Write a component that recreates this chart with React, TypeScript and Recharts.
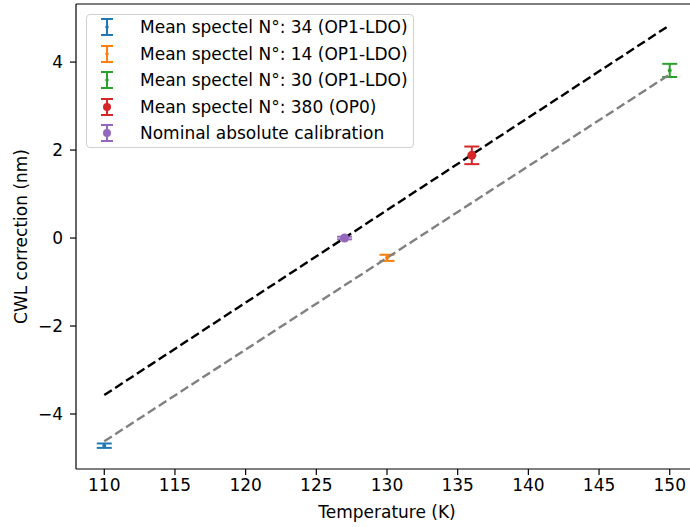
import { ComposedChart, ErrorBar, Scatter, XAxis, YAxis } from "recharts";

const SERIES_NAMES = [
  "Mean spectel N°: 34 (OP1-LDO)",
  "Mean spectel N°: 14 (OP1-LDO)",
  "Mean spectel N°: 30 (OP1-LDO)",
  "Mean spectel N°: 380 (OP0)",
  "Nominal absolute calibration",
];
const SERIES_COLORS = ["#1f77b4", "#ff7f0e", "#2ca02c", "#d62728", "#9467bd"];
const SERIES_BIG_DOT = [false, false, false, true, true];
const TEMPS = [110, 130, 150, 136, 127];
const CWL = [-4.72, -0.45, 3.81, 1.88, 0.0];
const CWL_ERR = [0.05, 0.07, 0.15, 0.2, 0.03];

const FIT_TEMPS = [110, 150];
const FIT_OP0 = [-3.57, 4.84];
const FIT_OP1 = [-4.62, 3.72];

const X_TICKS = [110, 115, 120, 125, 130, 135, 140, 145, 150];
const Y_TICKS = [-4, -2, 0, 2, 4];

const FONT = "'DejaVu Sans', sans-serif";
const FONT_SIZE = 17;
const DASH = "9 4";

const fmtY = (v: number) => String(v).replace("-", "\u2212");

function fitData(ys: number[]) {
  return FIT_TEMPS.map((x, i) => ({ x, y: ys[i] }));
}

function LegendBox() {
  return (
    <div
      style={{
        position: "absolute",
        left: 86,
        top: 14,
        width: 326,
        height: 132,
        border: "1px solid #d0d0d0",
        borderRadius: 4,
        background: "rgba(255,255,255,0.8)",
        fontFamily: FONT,
        fontSize: FONT_SIZE,
        color: "#000",
      }}
    >
      {SERIES_NAMES.map((name, i) => (
        <div
          key={name}
          style={{
            position: "absolute",
            left: 0,
            top: 12 + i * 26.5 - 13,
            height: 26,
            display: "flex",
            alignItems: "center",
            whiteSpace: "nowrap",
          }}
        >
          <svg width={44} height={26}>
            <g stroke={SERIES_COLORS[i]} strokeWidth={2}>
              <line x1={20} y1={5} x2={20} y2={21} />
              <line x1={14} y1={5} x2={26} y2={5} />
              <line x1={14} y1={21} x2={26} y2={21} />
            </g>
            <circle cx={20} cy={13} r={SERIES_BIG_DOT[i] ? 4 : 1.8} fill={SERIES_COLORS[i]} />
          </svg>
          <span style={{ marginLeft: 9 }}>{name}</span>
        </div>
      ))}
    </div>
  );
}

export default function App() {
  return (
    <div
      style={{
        position: "absolute",
        left: 0,
        top: 0,
        width: 690,
        height: 527,
        overflow: "hidden",
        background: "#fff",
      }}
    >
      <ComposedChart width={710} height={527} margin={{ top: 3, right: 12, bottom: 0, left: 0 }}>
        <XAxis
          xAxisId="top"
          orientation="top"
          type="number"
          dataKey="x"
          domain={[108, 152]}
          height={1}
          tick={false}
          tickLine={false}
          axisLine={{ stroke: "#000", strokeWidth: 1.2 }}
        />
        <XAxis
          type="number"
          dataKey="x"
          domain={[108, 152]}
          ticks={X_TICKS}
          height={58}
          tickSize={6}
          tickMargin={4}
          tick={{ fill: "#000", fontSize: FONT_SIZE, fontFamily: FONT }}
          axisLine={{ stroke: "#000", strokeWidth: 1.2 }}
          tickLine={{ stroke: "#000", strokeWidth: 1.2 }}
          label={{
            value: "Temperature (K)",
            position: "insideBottom",
            offset: 9,
            fill: "#000",
            fontSize: FONT_SIZE,
            fontFamily: FONT,
          }}
        />
        <YAxis
          type="number"
          dataKey="y"
          domain={[-5.25, 5.32]}
          ticks={Y_TICKS}
          tickFormatter={fmtY}
          width={76}
          tickSize={6}
          tickMargin={7}
          tick={{ fill: "#000", fontSize: FONT_SIZE, fontFamily: FONT }}
          axisLine={{ stroke: "#000", strokeWidth: 1.2 }}
          tickLine={{ stroke: "#000", strokeWidth: 1.2 }}
          label={{
            content: ({ viewBox }: any) => (
              <text
                x={0}
                y={0}
                transform={`translate(26.5, ${viewBox.y + viewBox.height / 2}) rotate(-90)`}
                textAnchor="middle"
                fill="#000"
                fontSize={FONT_SIZE}
                fontFamily={FONT}
              >
                CWL correction (nm)
              </text>
            ),
          }}
        />
        <Scatter
          data={fitData(FIT_OP0)}
          line={{ stroke: "#000", strokeWidth: 2.4, strokeDasharray: DASH }}
          shape={() => <g />}
          isAnimationActive={false}
          legendType="none"
        />
        <Scatter
          data={fitData(FIT_OP1)}
          line={{ stroke: "#808080", strokeWidth: 2.4, strokeDasharray: DASH }}
          shape={() => <g />}
          isAnimationActive={false}
          legendType="none"
        />
        {SERIES_NAMES.map((name, i) => (
          <Scatter
            key={name}
            name={name}
            data={[{ x: TEMPS[i], y: CWL[i], err: CWL_ERR[i] }]}
            fill={SERIES_COLORS[i]}
            isAnimationActive={false}
            shape={(p: any) => (
              <circle cx={p.cx} cy={p.cy} r={SERIES_BIG_DOT[i] ? 4.5 : 2} fill={SERIES_COLORS[i]} />
            )}
          >
            <ErrorBar
              dataKey="err"
              direction="y"
              width={7.5}
              stroke={SERIES_COLORS[i]}
              strokeWidth={2}
              isAnimationActive={false}
            />
          </Scatter>
        ))}
      </ComposedChart>
      <LegendBox />
    </div>
  );
}
